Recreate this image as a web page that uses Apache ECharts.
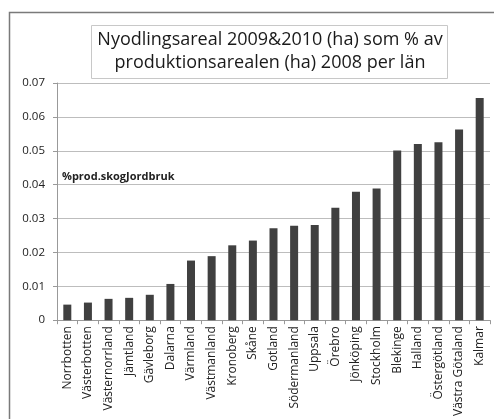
<!DOCTYPE html>
<html><head><meta charset="utf-8">
<script src="https://cdn.jsdelivr.net/npm/echarts@6/dist/echarts.min.js"></script>
<style>html,body{margin:0;padding:0;background:#fff}#c{width:494px;height:419px}</style>
</head><body><div id="c"></div>
<script>
const categories = ["Norrbotten","Västerbotten","Västernorrland","Jämtland","Gävleborg","Dalarna","Värmland","Västmanland","Kronoberg","Skåne","Gotland","Södermanland","Uppsala","Örebro","Jönköping","Stockholm","Blekinge","Halland","Östergötland","Västra Götaland","Kalmar"];
const values = [0.0046,0.0052,0.0063,0.0066,0.0075,0.0107,0.0176,0.0189,0.0221,0.0235,0.0271,0.0279,0.0281,0.0332,0.0379,0.0389,0.0501,0.0520,0.0525,0.0563,0.0656];
const seriesName = "%prod.skogJordbruk";
const titleLines = ["Nyodlingsareal 2009&2010 (ha) som % av","produktionsarealen (ha) 2008 per län"];

const chart = echarts.init(document.getElementById('c'));
const font = "'Open Sans', 'Liberation Sans', sans-serif";
chart.setOption({
  animation:false,
  backgroundColor:'#fff',
  grid:{left:57,right:4,top:83,bottom:97,containLabel:false},
  graphic:[
    {type:'rect',shape:{x:9.5,y:12.5,width:500,height:420},style:{fill:'none',stroke:'#7a7a7a',lineWidth:1.5},z:-1},
    {type:'rect',shape:{x:91.5,y:25.5,width:356,height:53},style:{fill:'#fff',stroke:'#c8c8c8',lineWidth:1},z:10},
    {type:'text',x:270,y:40,style:{text:titleLines[0],font:"18px "+font,fill:'#1a1a1a',textAlign:'center',textVerticalAlign:'middle'},z:11},
    {type:'text',x:270,y:63,style:{text:titleLines[1],font:"18px "+font,fill:'#1a1a1a',textAlign:'center',textVerticalAlign:'middle'},z:11},
    {type:'text',x:62,y:177,style:{text:seriesName,font:"bold 11px "+font,fill:'#222',textAlign:'left',textVerticalAlign:'middle'},z:11}
  ],
  xAxis:{type:'category',data:categories,
    axisLine:{lineStyle:{color:'#999'}},
    axisTick:{show:true,alignWithLabel:false,length:4,lineStyle:{color:'#999'}},
    axisLabel:{rotate:90,interval:0,fontSize:12,color:'#222',fontFamily:font,margin:6}},
  yAxis:{type:'value',min:0,max:0.07,interval:0.01,
    axisLine:{show:true,lineStyle:{color:'#999'}},
    axisTick:{show:true,length:4,lineStyle:{color:'#999'}},
    splitLine:{lineStyle:{color:'#bdbdbd'}},
    axisLabel:{fontSize:11.5,color:'#222',fontFamily:font,margin:12,
      formatter:v=>v===0?'0':v.toFixed(2)}},
  series:[{type:'bar',name:seriesName,data:values,barWidth:8,itemStyle:{color:'#404040'}}]
});
</script></body></html>
